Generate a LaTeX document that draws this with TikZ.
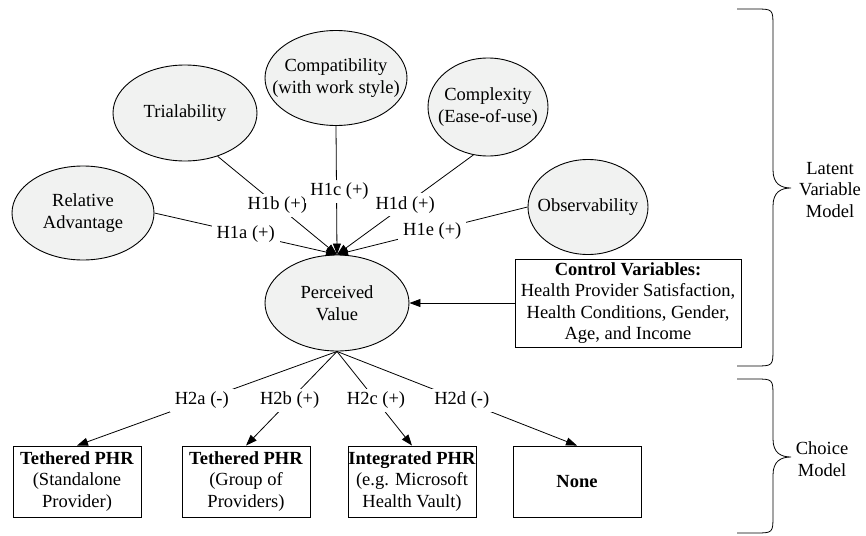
\documentclass[tikz,border=0pt]{standalone}
\usepackage{fontspec}
\setmainfont{Liberation Serif}
\usetikzlibrary{shapes.geometric,arrows.meta}
\definecolor{ellfill}{RGB}{241,242,241}
\begin{document}
\begin{tikzpicture}[
    x=1pt, y=-1pt,
    every node/.style={align=center, font=\fontsize{18.5}{21.5}\selectfont},
    construct/.style={draw, ellipse, fill=ellfill, line width=0.9pt, inner sep=-25pt},
    choicebox/.style={draw, line width=0.9pt, minimum width=128pt, minimum height=71pt, inner sep=0pt},
    hyp/.style={fill=white, inner xsep=5pt, inner ysep=3pt},
    arrow link/.style={draw, line width=0.8pt, -{Triangle[length=11pt,width=8pt]}},
    brace line/.style={draw, line width=0.8pt},
    ]
\useasboundingbox (0,0) rectangle (866,535);
% diffusion attributes
\node[construct, minimum width=142pt, minimum height=94pt] (RA) at (83,213) {Relative\\Advantage};
\node[construct, minimum width=144pt, minimum height=96pt] (TR) at (185,113) {Trialability};
\node[construct, minimum width=142pt, minimum height=95pt] (CP) at (336,78) {Compatibility\\(with work style)};
\node[construct, minimum width=120pt, minimum height=98pt] (CX) at (488,107) {Complexity\\(Ease-of-use)};
\node[construct, minimum width=120pt, minimum height=95pt] (OB) at (588,207) {Observability};
\node[construct, minimum width=144pt, minimum height=96pt] (PV) at (337,303) {Perceived\\Value};
\node[draw, line width=0.9pt, minimum width=226pt, minimum height=88pt, inner sep=0pt] (CV) at (628,303) {\textbf{Control Variables:}\\Health Provider Satisfaction,\\Health Conditions, Gender,\\Age, and Income};
\draw[arrow link] (RA.east) -- node[hyp]{H1a (+)} (PV.north);
\draw[arrow link] (TR.307) -- node[hyp]{H1b (+)} (PV.north);
\draw[arrow link] (CP.south) -- node[hyp, xshift=3pt, yshift=-1pt]{H1c (+)} (PV.north);
\draw[arrow link] (CX.253) -- node[hyp]{H1d (+)} (PV.north);
\draw[arrow link] (OB.west) -- node[hyp]{H1e (+)} (PV.north);
\draw[arrow link] (CV) -- (PV);
% PHR choices
\node[choicebox] (TS) at (77,481.5) {\textbf{Tethered PHR}\\(Standalone\\Provider)};
\node[choicebox] (TG) at (246,481.5) {\textbf{Tethered PHR}\\(Group of\\Providers)};
\node[choicebox] (IP) at (412,481.5) {\textbf{Integrated PHR}\\(e.g. Microsoft\\Health Vault)};
\node[choicebox] (NO) at (577,481.5) {\textbf{None}};
\draw[arrow link] (PV.south) -- node[hyp, pos=0.52]{H2a (-)} (TS.north);
\draw[arrow link] (PV.south) -- node[hyp, pos=0.52]{H2b (+)} (TG.north);
\draw[arrow link] (PV.south) -- node[hyp, pos=0.52]{H2c (+)} (IP.north);
\draw[arrow link] (PV.south) -- node[hyp, pos=0.52]{H2d (-)} (NO.north);
% braces
\draw[brace line] (737,9) -- (755,9) .. controls (773,9) and (773,9) .. (773,27) -- (773,170) .. controls (773,184) and (781,188) .. (791,188) .. controls (781,188) and (773,192) .. (773,206) -- (773,348) .. controls (773,366) and (773,366) .. (755,366) -- (737,366);
\draw[brace line] (737,379) -- (755,379) .. controls (773,379) and (773,379) .. (773,397) -- (773,439) .. controls (773,453) and (781,457) .. (791,457) .. controls (781,457) and (773,461) .. (773,475) -- (773,515) .. controls (773,533) and (773,533) .. (755,533) -- (737,533);
\node (LVM) at (830,190) {Latent\\Variable\\Model};
\node (CM) at (822,459) {Choice\\Model};
\end{tikzpicture}
\end{document}
